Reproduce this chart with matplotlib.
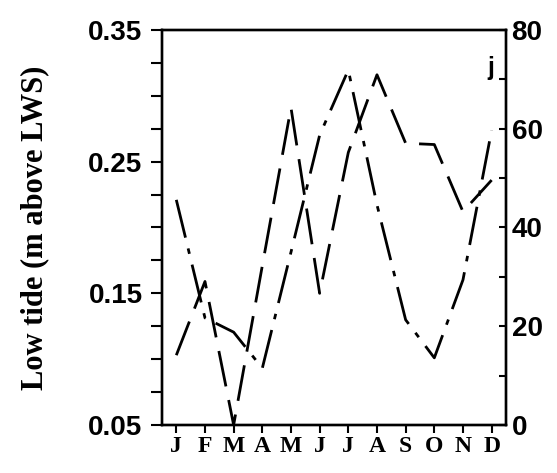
import matplotlib
matplotlib.use("Agg")
import matplotlib.pyplot as plt
from matplotlib.ticker import FixedLocator

plt.rcParams["lines.scale_dashes"] = False

months = ["J", "F", "M", "A", "M", "J", "J", "A", "S", "O", "N", "D"]
low_tide = [0.103, 0.159, 0.050, 0.171, 0.291, 0.150, 0.257, 0.316, 0.264, 0.263, 0.212, 0.236]
right_series = [45.6, 21.7, 18.8, 11.5, 35.0, 58.7, 71.9, 44.6, 21.3, 13.6, 29.4, 59.7]
left_ticks = [0.05, 0.15, 0.25, 0.35]
right_ticks = [0, 20, 40, 60, 80]

serif = ["Liberation Serif", "DejaVu Serif"]
sans = ["Liberation Sans", "DejaVu Sans"]

fig = plt.figure(figsize=(5.57, 4.73), dpi=100)
ax = fig.add_axes([0.2908, 0.1015, 0.6176, 0.8351])
ax2 = ax.twinx()

x = list(range(len(months)))
ax.plot(x, low_tide, color="black", lw=2.0, dashes=(26, 10), solid_capstyle="butt")
ax2.plot(x, right_series, color="black", lw=2.0, dashes=(28, 8, 4, 8), solid_capstyle="butt")

ax.set_xlim(-0.5, 11.5)
ax.set_ylim(0.05, 0.35)
ax2.set_ylim(0, 80)

ax.set_xticks(x)
ax.set_xticklabels(months, fontfamily=serif, fontweight="bold", fontsize=17)
ax.yaxis.set_major_locator(FixedLocator(left_ticks))
ax.yaxis.set_minor_locator(FixedLocator([0.075, 0.1, 0.125, 0.175, 0.2, 0.225, 0.275, 0.3, 0.325]))
ax.set_yticklabels([f"{t:.2f}" for t in left_ticks], fontfamily=sans, fontweight="bold", fontsize=20)
ax2.yaxis.set_major_locator(FixedLocator(right_ticks))
ax2.yaxis.set_minor_locator(FixedLocator([10, 30, 50, 70]))
ax2.set_yticklabels([str(t) for t in right_ticks], fontfamily=sans, fontweight="bold", fontsize=20)

ax.tick_params(axis="y", which="both", direction="out", length=8, width=1.5, pad=6)
ax.tick_params(axis="x", direction="out", length=6, width=1.5, pad=2)
ax2.tick_params(axis="y", which="both", direction="in", length=5, width=1.5, pad=4)

for a in (ax, ax2):
    for s in a.spines.values():
        s.set_linewidth(1.7)

ax.set_ylabel("Low tide (m above LWS)", fontfamily=serif, fontweight="bold", fontsize=22, labelpad=28)
ax.text(0.965, 0.935, "j", transform=ax.transAxes, ha="right", va="top",
        fontfamily=sans, fontweight="bold", fontsize=18)

fig.savefig("out.png", dpi=100)
